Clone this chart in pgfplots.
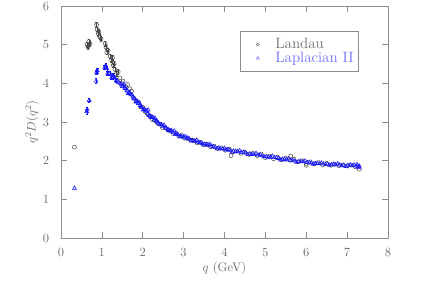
\documentclass[border=0pt]{standalone}
\usepackage{pgfplots}
\pgfplotsset{compat=1.18}
\definecolor{axgray}{RGB}{140,140,140}
\definecolor{txgray}{RGB}{110,110,110}
\definecolor{landau}{RGB}{70,70,70}
\definecolor{lapl}{RGB}{20,20,255}
\definecolor{lapltext}{RGB}{110,110,255}
\pgfplotsset{mylegimg/.style={legend image code/.code={\draw[##1] plot coordinates {(0.42cm,0cm)}; \path (0cm,0cm) (0.84cm,0cm);}}}
\begin{document}
\begin{tikzpicture}
\path[use as bounding box] (-48.8pt,-54.4pt) rectangle (296.8pt,190.4pt);
\begin{axis}[
  at={(0pt,0pt)}, anchor=south west,
  scale only axis, width=261.6pt, height=185.6pt,
  xmin=0, xmax=8, ymin=0, ymax=6,
  xtick={0,1,...,8}, ytick={0,1,...,6},
  tick align=inside, major tick length=4.8pt,
  axis line style={axgray}, tick style={axgray, line width=0.5pt},
  ticklabel style={txgray},
  xticklabel style={yshift=-5pt},
  yticklabel style={xshift=-6pt},
  xlabel={$q$ (GeV)}, ylabel={$q^2D(q^2)$},
  label style={txgray},
  xlabel style={at={(axis description cs:0.5,-0.129)}, anchor=center},
  ylabel style={at={(axis description cs:-0.088,0.5)}, anchor=center, rotate=0},
  legend style={at={(rel axis cs:0.547,0.892)}, anchor=north west, draw=axgray,
    font=\large, inner xsep=2pt, inner ysep=5pt, row sep=0pt,
    nodes={inner ysep=0.6pt}},
  legend cell align=left,
]
\addlegendimage{only marks, mark=o, mark size=1.2pt, color=txgray, mylegimg}
\addlegendentry{\textcolor{txgray}{Landau}}
\addlegendimage{only marks, mark=triangle, mark size=1.4pt, color=lapltext, mylegimg}
\addlegendentry{\textcolor{lapltext}{Laplacian II}}
% Landau
\addplot[forget plot, only marks, mark=o, mark size=1.6pt, color=landau, line width=0.4pt,
  error bars/.cd, y dir=both, y fixed=0.06, error bar style={line width=0.4pt}, error mark options={rotate=90, mark size=1pt}]
coordinates {
(0.64,5.00)(0.66,4.94)(0.68,5.08)(0.71,5.02)(0.87,5.52)(0.88,5.40)(0.91,5.28)(0.93,5.33)
(0.95,5.20)(0.98,5.15)(1.08,5.03)(1.10,4.94)(1.12,4.80)(1.15,4.85)(1.20,4.70)(1.24,4.60)
(1.26,4.66)(1.28,4.47)(1.30,4.52)(1.32,4.36)(1.36,4.25)(1.40,4.30)
};
\addplot[forget plot, only marks, mark=o, mark size=1.6pt, color=landau, line width=0.4pt]
coordinates {
(0.33,2.35)
(1.44,4.14)(1.48,4.00)(1.52,4.05)(1.58,3.92)(1.63,3.97)(1.68,3.86)(1.73,3.80)(1.78,3.62)
(1.84,3.55)(1.90,3.50)(1.95,3.40)(2.00,3.38)(2.06,3.27)(2.12,3.20)(2.18,3.15)(2.24,3.06)
(2.30,3.04)(2.36,2.97)(2.42,2.95)(2.48,2.86)(2.55,2.85)(2.62,2.79)(2.68,2.77)(2.75,2.70)
(2.82,2.72)(2.88,2.64)(2.95,2.66)(3.02,2.58)(3.10,2.57)(3.18,2.53)(3.25,2.52)(3.33,2.46)
(3.42,2.47)(3.50,2.41)(3.58,2.42)(3.66,2.36)(3.75,2.37)(3.84,2.31)(3.93,2.33)(4.02,2.27)
(4.12,2.30)(4.16,2.13)(4.21,2.23)(4.30,2.25)(4.40,2.19)(4.50,2.22)(4.60,2.16)(4.70,2.19)
(4.80,2.13)(4.90,2.17)(5.00,2.08)(5.10,2.12)(5.20,2.05)(5.30,2.09)(5.40,2.02)(5.50,2.06)
(5.60,2.01)(5.62,2.12)(5.70,2.04)(5.80,1.97)(5.90,2.00)(6.00,1.93)(6.00,1.88)(6.10,1.97)
(6.20,1.92)(6.30,1.95)(6.40,1.89)(6.50,1.93)(6.60,1.88)(6.70,1.91)(6.80,1.87)(6.90,1.89)
(7.00,1.86)(7.10,1.89)(7.20,1.84)(7.25,1.87)(7.30,1.78)
};
% Laplacian II
\addplot[forget plot, only marks, mark=triangle, mark size=1.8pt, color=lapl, line width=0.45pt,
  error bars/.cd, y dir=both, y fixed=0.06, error bar style={line width=0.4pt}, error mark options={rotate=90, mark size=1pt}]
coordinates {
(0.63,3.27)(0.64,3.33)(0.69,3.56)(0.86,4.06)(0.87,4.29)(0.89,4.33)(1.07,4.42)(1.10,4.45)
(1.12,4.38)(1.14,4.26)(1.20,4.26)(1.24,4.16)(1.28,4.20)(1.32,4.12)(1.36,4.08)
};
\addplot[forget plot, only marks, mark=triangle, mark size=1.8pt, color=lapl, line width=0.45pt]
coordinates {
(0.33,1.29)
(1.41,4.03)(1.44,4.00)(1.48,3.96)(1.52,3.93)(1.56,3.88)(1.61,3.81)(1.66,3.76)(1.71,3.71)
(1.76,3.65)(1.80,3.60)(1.85,3.54)(1.89,3.48)(1.94,3.43)(1.98,3.38)(2.03,3.33)(2.08,3.28)
(2.13,3.22)(2.18,3.16)(2.23,3.13)(2.28,3.06)(2.33,3.03)(2.38,2.98)(2.44,2.93)(2.50,2.89)
(2.56,2.85)(2.62,2.81)(2.68,2.77)(2.74,2.73)(2.80,2.70)(2.86,2.67)(2.93,2.64)(3.00,2.61)
(3.07,2.58)(3.14,2.56)(3.21,2.53)(3.28,2.51)(3.36,2.48)(3.44,2.45)(3.52,2.43)(3.60,2.40)
(3.68,2.38)(3.77,2.35)(3.86,2.33)(3.95,2.30)(4.04,2.28)(4.13,2.27)(4.22,2.25)(4.32,2.23)
(4.42,2.21)(4.52,2.20)(4.62,2.18)(4.72,2.16)(4.82,2.15)(4.92,2.13)(5.02,2.11)(5.12,2.09)
(5.22,2.08)(5.32,2.06)(5.42,2.04)(5.52,2.02)(5.62,2.01)(5.72,1.99)(5.82,1.98)(5.92,1.97)
(6.02,1.96)(6.12,1.94)(6.22,1.93)(6.32,1.92)(6.42,1.92)(6.52,1.91)(6.62,1.90)(6.72,1.89)
(6.82,1.89)(6.92,1.88)(7.02,1.88)(7.12,1.87)(7.22,1.86)(7.30,1.86)
(1.50,3.92)(1.58,3.87)(1.63,3.80)(1.69,3.75)(1.78,3.60)(1.87,3.53)(1.96,3.40)(2.05,3.32)
(2.15,3.17)(2.25,3.12)(2.35,3.02)(2.46,2.93)(2.58,2.84)(2.70,2.78)(2.83,2.68)(2.96,2.61)
(3.10,2.59)(3.25,2.50)(3.40,2.47)(3.56,2.42)(3.72,2.36)(3.90,2.31)(4.08,2.29)(4.27,2.24)
(4.47,2.22)(4.67,2.16)(4.87,2.15)(5.07,2.09)(5.27,2.08)(5.47,2.04)(5.67,2.01)(5.87,1.98)
(6.07,1.95)(6.27,1.93)(6.47,1.90)(6.67,1.91)(6.87,1.87)(7.07,1.89)(7.27,1.84)
(1.54,3.98)(1.65,3.74)(1.74,3.70)(1.83,3.52)(1.92,3.49)(2.01,3.31)(2.10,3.29)(2.13,3.31)
(2.20,3.12)(2.30,3.10)(2.40,2.94)(2.52,2.92)(2.64,2.78)(2.77,2.77)(2.90,2.62)(3.04,2.63)
(3.18,2.51)(3.32,2.53)(3.48,2.41)(3.64,2.42)(3.82,2.31)(4.00,2.32)(4.18,2.22)(4.37,2.26)
(4.57,2.16)(4.77,2.19)(4.97,2.10)(5.17,2.12)(5.37,2.02)(5.57,2.05)(5.77,1.96)(5.97,1.99)
(6.17,1.91)(6.37,1.94)(6.57,1.88)(6.77,1.92)(6.97,1.85)(7.17,1.89)(7.29,1.83)(7.24,1.90)
};
\end{axis}
\end{tikzpicture}
\end{document}
